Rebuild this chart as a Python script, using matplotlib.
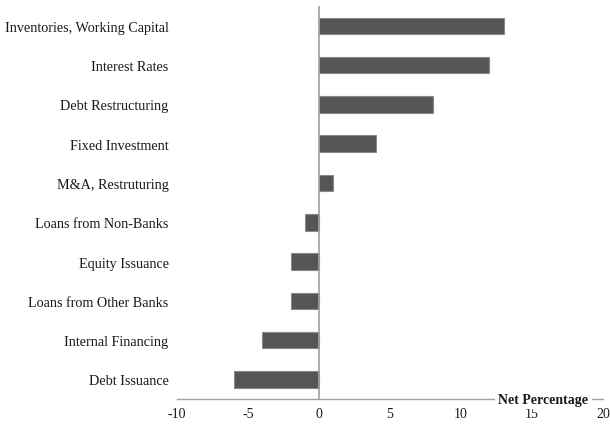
import matplotlib
matplotlib.use("Agg")
import matplotlib.pyplot as plt

categories = ["Debt Issuance", "Internal Financing", "Loans from Other Banks",
              "Equity Issuance", "Loans from Non-Banks", "M&A, Restruturing",
              "Fixed Investment", "Debt Restructuring", "Interest Rates",
              "Inventories, Working Capital"]
values = [-6, -4, -2, -2, -1, 1, 4, 8, 12, 13]
xticks = [-10, -5, 0, 5, 10, 15, 20]

plt.rcParams['font.family'] = ['Liberation Serif', 'DejaVu Serif']

fig = plt.figure(figsize=(6.1, 4.27), dpi=100)
ax = fig.add_axes([0.290, 0.0632, 0.6985, 0.9198])

ypos = list(range(len(categories)))
ax.barh(ypos, values, height=0.42, color='#555555', edgecolor='#8a8a8a', linewidth=0.8, zorder=3)

ax.set_xlim(-10, 20)
ax.set_ylim(-0.5, 9.5)
ax.set_xticks(xticks)
ax.set_xticklabels([str(t) for t in xticks], fontsize=10, color='#1a1a1a')
ax.set_yticks(ypos)
ax.set_yticklabels(categories, fontsize=10.2, color='#1a1a1a')
ax.tick_params(axis='y', length=0, pad=6)
ax.tick_params(axis='x', length=0, pad=6)

for s in ['top', 'right', 'left']:
    ax.spines[s].set_visible(False)
ax.spines['bottom'].set_color('#a0a0a0')
ax.spines['bottom'].set_linewidth(1.0)
ax.axvline(0, color='#a0a0a0', linewidth=1.2, zorder=4)

ax.text(15.8, -0.5, "Net Percentage", fontsize=10, fontweight='bold', color='#1a1a1a',
        ha='center', va='center', zorder=5,
        bbox=dict(facecolor='white', edgecolor='none', pad=2.5))

fig.savefig("out.png", dpi=100)
